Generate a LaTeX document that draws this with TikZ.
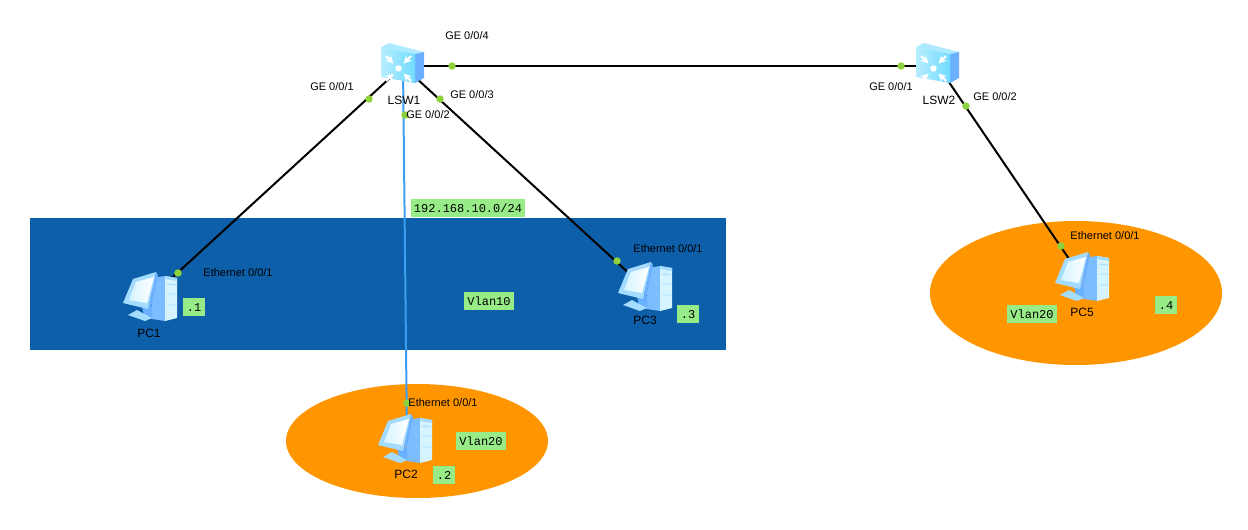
\documentclass[tikz,border=0pt]{standalone}
\usepackage{fontspec}
\setmainfont{Liberation Sans}
\newfontfamily\labelMono{Liberation Mono}
\begin{document}
\begin{tikzpicture}[x=0.75pt, y=-0.75pt]
    \definecolor{vlanBlue}{HTML}{0C5FA8}
    \definecolor{vlanOrange}{HTML}{FF9600}
    \definecolor{tagGreen}{HTML}{98EC88}
    \definecolor{dotGreen}{HTML}{8CD23C}
    \definecolor{linkBlue}{HTML}{3C9EF0}
    \definecolor{iconLight}{HTML}{D6F4FF}
    \definecolor{iconMid}{HTML}{A4DCFF}
    \definecolor{iconDark}{HTML}{6AB0FF}
    \definecolor{iconCyan}{HTML}{70DCFF}

    \tikzset{
        iconAnchor/.style={inner sep=0pt, minimum size=1pt},
        port/.style={font=\fontsize{8.25pt}{10pt}\selectfont, inner sep=0pt},
        devName/.style={font=\fontsize{9pt}{10pt}\selectfont, inner sep=0pt},
        tag/.style={fill=tagGreen, font=\labelMono\fontsize{9pt}{10pt}\selectfont, inner sep=2.6pt, minimum height=13.5pt, text height=6.5pt, text depth=0pt},
        portDot/.style={circle, fill=dotGreen, inner sep=0pt, minimum size=5.6pt},
        wire/.style={line width=1.5pt, black},
        pics/pcIcon/.style={code={
            % tower
            \fill[iconDark!70!iconMid] (2,-20) -- (15,-22) -- (15,23) -- (2,21) -- cycle;
            \fill[iconLight] (15,-22) -- (27,-20) -- (27,20) -- (15,23) -- cycle;
            \fill[iconMid] (15,-22) -- (27,-20) -- (27,-17) -- (15,-19) -- cycle;
            \draw[iconMid, line width=0.7pt] (17,-14) -- (26,-13) (17,-4) -- (26,-4) (17,7) -- (26,7);
            % stand
            \fill[iconDark] (-8,8) -- (2,8) -- (2,21) -- (-6,18) -- cycle;
            \fill[iconMid] (-22,17) -- (-13,12) -- (2,20) -- (-5,23) -- cycle;
            % monitor
            \fill[iconDark] (6,-26) -- (8,-23) -- (1,10) -- (-2,11) -- cycle;
            \fill[iconMid] (-27,5) -- (-17,-19) -- (6,-26) -- (-2,11) -- cycle;
            \shade[left color=iconLight, right color=white] (-21,2) -- (-14,-16) -- (4,-21) -- (-3,5) -- cycle;
        }},
        pics/swIcon/.style={code={
            \fill[iconLight!60!iconCyan] (-22,-19) -- (-14,-23) -- (21,-14) -- (12,-12) -- cycle;
            \fill[iconDark] (12,-12) -- (21,-14) -- (21,12) -- (12,17) -- cycle;
            \shade[left color=iconLight!70!iconCyan, right color=iconCyan] (-22,-19) -- (12,-12) -- (12,17) -- (-22,11) -- cycle;
            \fill[white] (-4.5,2.5) circle (3.2);
            % arrows towards the centre
            \foreach \ax/\ay in {-1/-1, 1/-1, -1/1, 1/1}
                \draw[white, line width=1.6pt, -stealth] ({-4.5+\ax*12.5},{2.5+\ay*12.5}) -- ({-4.5+\ax*5},{2.5+\ay*5});
        }}
    }

    \useasboundingbox (0,0) rectangle (1248,529);

    % Vlan areas
    \fill[vlanBlue] (30,218) rectangle (726,350);
    \fill[vlanOrange] (417,441) ellipse (131 and 57);
    \fill[vlanOrange] (1076,293) ellipse (146 and 72);

    % Device positions
    \node[iconAnchor] (lsw1) at (403,66) {};
    \node[iconAnchor] (lsw2) at (938,66) {};
    \node[iconAnchor] (pc1) at (150,298) {};
    \node[iconAnchor] (pc2) at (407,440) {};
    \node[iconAnchor] (pc3) at (645,288) {};
    \node[iconAnchor] (pc5) at (1082,278) {};

    % Links
    \draw[wire] (lsw1) -- (pc1);
    \draw[wire] (lsw1) -- (pc3);
    \draw[wire] (lsw1) -- (lsw2);
    \draw[wire] (lsw2) -- (pc5);
    \draw[line width=1.5pt, linkBlue] (lsw1) -- (pc2);

    % Port dots
    \foreach \dotName/\dotX/\dotY in {p1/369/99, p2/405/115, p3/440/99, p4/452/66, q1/901/66, q2/966/106,
                                      e1/178/273, e2/407/403, e3/617/261, e5/1061/246}
        \node[portDot] (\dotName) at (\dotX,\dotY) {};

    % Device icons
    \pic at (lsw1) {swIcon};
    \pic at (lsw2) {swIcon};
    \pic at (pc1) {pcIcon};
    \pic at ([xshift=-1.5pt]pc2) {pcIcon};
    \pic at (pc3) {pcIcon};
    \pic at (pc5) {pcIcon};

    % Port labels
    \node[port] (g1) at (332,87) {GE 0/0/1};
    \node[port] (g2) at (428,115) {GE 0/0/2};
    \node[port] (g3) at (472,95) {GE 0/0/3};
    \node[port] (g4) at (467,36) {GE 0/0/4};
    \node[port] (h1) at (891,87) {GE 0/0/1};
    \node[port] (h2) at (995,97) {GE 0/0/2};
    \node[port] (eth1) at (238,273) {Ethernet 0/0/1};
    \node[port] (eth2) at (443,403) {Ethernet 0/0/1};
    \node[port] (eth3) at (668,249) {Ethernet 0/0/1};
    \node[port] (eth5) at (1105,236) {Ethernet 0/0/1};

    % Device names
    \node[devName] (name1) at (404,100) {LSW1};
    \node[devName] (name2) at (939,100) {LSW2};
    \node[devName] (namePc1) at (149,333) {PC1};
    \node[devName] (namePc2) at (406,474) {PC2};
    \node[devName] (namePc3) at (645,320) {PC3};
    \node[devName] (namePc5) at (1082,312) {PC5};

    % Tags
    \node[tag] (net) at (468,208) {192.168.10.0/24};
    \node[tag] (vlan10) at (489,301) {Vlan10};
    \node[tag] (vlan20a) at (481,441) {Vlan20};
    \node[tag] (vlan20b) at (1032,314) {Vlan20};
    \node[tag] (ip1) at (194,307) {.1};
    \node[tag] (ip2) at (444,475) {.2};
    \node[tag] (ip3) at (688,314) {.3};
    \node[tag] (ip4) at (1166,305) {.4};
\end{tikzpicture}
\end{document}
